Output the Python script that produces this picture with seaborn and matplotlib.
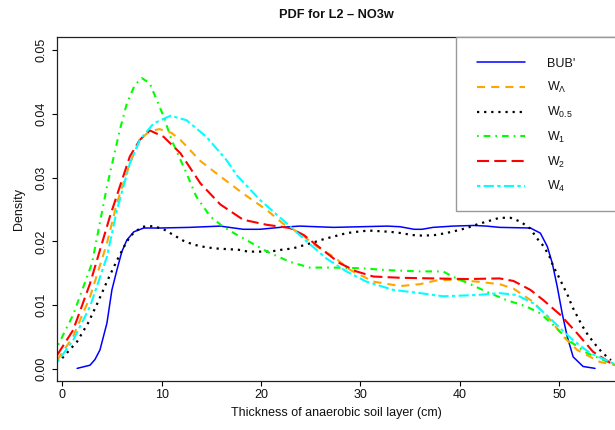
import numpy as np
import pandas as pd
import matplotlib
matplotlib.use("Agg")
import matplotlib.pyplot as plt
import seaborn as sns
from matplotlib.lines import Line2D
from matplotlib.patches import Rectangle

# ---------------- data ----------------
series_names = ["BUB'", "W_L", "W_0.5", "W_1", "W_2", "W_4"]
legend_labels = ["BUB'", r"W$_{Λ}$", r"W$_{0.5}$", r"W$_{1}$", r"W$_{2}$", r"W$_{4}$"]

bub_x = [1.5, 2.8, 3.3, 3.8, 4.5, 5.0, 5.5, 6.0, 6.5, 7.2, 8.2, 9.8, 12.8, 15.9, 18.2, 19.9,
         21.9, 23.9, 27.3, 30.0, 32.7, 34.0, 35.4, 36.2, 37.3, 39.3, 41.4, 42.7, 44.0, 47.1,
         48.1, 48.8, 49.3, 49.8, 50.3, 50.8, 51.4, 52.4, 53.6]
bub_y = [0.0001, 0.0006, 0.0015, 0.0030, 0.0072, 0.0124, 0.0155, 0.0184, 0.0202, 0.0215,
         0.0221, 0.0221, 0.0222, 0.0224, 0.0219, 0.0219, 0.0222, 0.0224, 0.0222, 0.0223,
         0.0224, 0.0223, 0.0219, 0.0219, 0.0222, 0.0224, 0.0225, 0.0224, 0.0222, 0.0221,
         0.0213, 0.0192, 0.0166, 0.0129, 0.0087, 0.0051, 0.0019, 0.0004, 0.0001]

wl_x = [-0.5, 1.1, 2.8, 4.5, 5.5, 6.8, 7.8, 8.8, 9.8, 11.0, 11.9, 13.9, 15.9, 18.2, 20.6,
        22.2, 23.9, 25.6, 27.3, 29.0, 31.3, 34.0, 36.0, 37.7, 39.4, 41.7, 44.0, 45.4, 47.4,
        49.1, 50.4, 51.8, 54.1, 55.7]
wl_y = [0.0014, 0.0051, 0.0113, 0.0197, 0.0260, 0.0322, 0.0359, 0.0373, 0.0376, 0.0370,
        0.0359, 0.0326, 0.0302, 0.0275, 0.0249, 0.0228, 0.0213, 0.0192, 0.0176, 0.0155,
        0.0137, 0.0130, 0.0133, 0.0139, 0.0140, 0.0137, 0.0133, 0.0126, 0.0105, 0.0077,
        0.0051, 0.0030, 0.0011, 0.0006]

w05_x = [0.0, 1.5, 2.6, 3.6, 4.5, 5.5, 6.5, 7.2, 8.1, 9.2, 10.2, 11.2, 12.2, 13.2, 14.4,
         15.4, 16.5, 17.7, 18.7, 20.9, 22.1, 23.2, 24.3, 25.4, 26.4, 27.4, 28.6, 29.6, 30.8,
         32.0, 33.0, 34.1, 35.2, 36.3, 37.5, 38.6, 39.7, 40.7, 41.8, 42.9, 44.0, 45.1, 46.1,
         47.1, 47.7, 48.4, 49.0, 49.4, 49.9, 50.4, 50.9, 51.3, 51.8, 52.3, 52.9, 53.6, 54.3,
         55.2]
w05_y = [0.0017, 0.0043, 0.0072, 0.0105, 0.0137, 0.0170, 0.0200, 0.0214, 0.0223, 0.0224,
         0.0219, 0.0210, 0.0201, 0.0195, 0.0191, 0.0189, 0.0188, 0.0187, 0.0184, 0.0184,
         0.0187, 0.0189, 0.0194, 0.0199, 0.0204, 0.0208, 0.0213, 0.0215, 0.0217, 0.0216,
         0.0215, 0.0213, 0.0210, 0.0209, 0.0210, 0.0213, 0.0217, 0.0221, 0.0227, 0.0232,
         0.0237, 0.0237, 0.0231, 0.0220, 0.0206, 0.0193, 0.0177, 0.0161, 0.0146, 0.0130,
         0.0114, 0.0098, 0.0083, 0.0068, 0.0053, 0.0039, 0.0026, 0.0014]

w1_x = [-0.4, 1.1, 3.0, 4.5, 5.8, 6.5, 7.3, 8.0, 8.8, 9.5, 10.2, 11.0, 12.5, 13.5, 14.9,
        16.2, 17.6, 18.2, 20.6, 22.9, 24.9, 27.2, 30.0, 32.7, 36.0, 38.3, 39.4, 41.2, 42.7,
        44.7, 46.7, 48.1, 49.4, 51.1, 52.8, 55.7]
w1_y = [0.0038, 0.0085, 0.0166, 0.0286, 0.0375, 0.0416, 0.0445, 0.0456, 0.0448, 0.0422,
        0.0396, 0.0359, 0.0307, 0.0270, 0.0239, 0.0223, 0.0210, 0.0205, 0.0184, 0.0168,
        0.0159, 0.0159, 0.0158, 0.0155, 0.0153, 0.0153, 0.0144, 0.0132, 0.0121, 0.0108,
        0.0098, 0.0087, 0.0069, 0.0043, 0.0025, 0.0006]

w2_x = [-0.5, 1.1, 2.8, 4.8, 6.8, 7.8, 8.8, 10.2, 11.9, 13.9, 15.9, 18.2, 20.6, 22.9, 24.3,
        25.6, 27.9, 29.6, 31.3, 34.0, 37.3, 40.7, 44.0, 45.4, 47.1, 48.4, 50.1, 51.8, 53.4,
        55.1, 55.7]
w2_y = [0.0022, 0.0061, 0.0134, 0.0239, 0.0333, 0.0359, 0.0374, 0.0364, 0.0338, 0.0291,
        0.0258, 0.0234, 0.0226, 0.0221, 0.0210, 0.0194, 0.0166, 0.0153, 0.0145, 0.0143,
        0.0142, 0.0141, 0.0142, 0.0138, 0.0124, 0.0108, 0.0085, 0.0056, 0.0027, 0.0010,
        0.0008]

w4_x = [-0.5, 1.1, 2.8, 4.5, 5.5, 6.8, 7.8, 9.2, 10.9, 12.5, 14.5, 16.5, 17.6, 19.9, 22.6,
        24.6, 26.6, 28.6, 30.6, 33.3, 36.0, 38.3, 41.7, 44.0, 45.7, 47.4, 48.7, 50.1, 51.4,
        53.1, 55.7]
w4_y = [0.0011, 0.0045, 0.0098, 0.0176, 0.0249, 0.0322, 0.0359, 0.0385, 0.0397, 0.0390,
        0.0364, 0.0328, 0.0303, 0.0265, 0.0228, 0.0200, 0.0173, 0.0153, 0.0137, 0.0124,
        0.0119, 0.0114, 0.0116, 0.0119, 0.0116, 0.0103, 0.0085, 0.0064, 0.0045, 0.0025,
        0.0007]

x_ticks = [0, 10, 20, 30, 40, 50]
y_ticks = [0.00, 0.01, 0.02, 0.03, 0.04, 0.05]
y_tick_labels = ["0.00", "0.01", "0.02", "0.03", "0.04", "0.05"]

# ---------------- styles ----------------
colors = ["#0000FF", "#FFA500", "#000000", "#00FF00", "#FF0000", "#00FFFF"]
widths = [1.1, 1.5, 1.6, 1.5, 1.5, 1.5]
styles = ["-", (0, (3.9, 2.9)), (0, (1.0, 2.2)), (0, (0.8, 2.4, 3.2, 2.4)),
          (0, (5.8, 2.5)), (0, (1.6, 1.6, 4.9, 1.6))]

xs = [bub_x, wl_x, w05_x, w1_x, w2_x, w4_x]
ys = [bub_y, wl_y, w05_y, w1_y, w2_y, w4_y]

frames = []
for name, x, y in zip(series_names, xs, ys):
    frames.append(pd.DataFrame({"series": name, "x": x, "y": y}))
df = pd.concat(frames, ignore_index=True)

sns.set_theme(style="ticks")
plt.rcParams["font.family"] = ["Liberation Sans", "DejaVu Sans"]
plt.rcParams["mathtext.default"] = "regular"

W, H = 615, 430
fig = plt.figure(figsize=(W / 100, H / 100), dpi=100)
ax_l, ax_r, ax_t, ax_b = 57.3, 616.0, 37.3, 380.7
ax = fig.add_axes([ax_l / W, (H - ax_b) / H, (ax_r - ax_l) / W, (ax_b - ax_t) / H])

for name, c, lw, ls in zip(series_names, colors, widths, styles):
    sub = df[df["series"] == name]
    sns.lineplot(data=sub, x="x", y="y", ax=ax, color=c, linewidth=lw,
                 linestyle=ls, sort=False, estimator=None, legend=False)

ax.set_xlim(-0.493, 55.71)
ax.set_ylim(-0.00183, 0.05199)
ax.set_xticks(x_ticks)
ax.set_xticklabels([str(t) for t in x_ticks])
ax.set_yticks(y_ticks)
ax.set_yticklabels(y_tick_labels, rotation=90, va="center")

fs = 9
ax.tick_params(axis="both", direction="out", length=3.6, width=0.8, color="black",
               labelsize=fs, labelcolor="#111111")
ax.tick_params(axis="x", pad=2.5)
ax.tick_params(axis="y", pad=3.5)
for sp in ax.spines.values():
    sp.set_color("#222222")
    sp.set_linewidth(0.9)

ax.set_xlabel("Thickness of anaerobic soil layer (cm)", fontsize=fs, color="#111111", va="center")
ax.xaxis.set_label_coords(0.5, ((H - 413) - (H - ax_b)) / (ax_b - ax_t))
ax.set_ylabel("Density", fontsize=fs, color="#111111", va="center")
ax.yaxis.set_label_coords((19.3 - ax_l) / (ax_r - ax_l), 0.5)

ax.set_title("PDF for L2 – NO3w", fontsize=9.2, fontweight="bold", color="#111111",
             y=1 + (ax_t - 15) / (ax_b - ax_t), pad=0, va="center")

# ---------------- legend (R-style box) ----------------
lg_l, lg_t, lg_b = 455.7, 36.7, 210.7
fig.add_artist(Rectangle((lg_l / W, (H - lg_b) / H), (700 - lg_l) / W, (lg_b - lg_t) / H,
                         transform=fig.transFigure, facecolor="white",
                         edgecolor="#999999", linewidth=1.0, zorder=5))
row0, dy = 62.3, 24.7
for i, (lab, c, lw, ls) in enumerate(zip(legend_labels, colors, widths, styles)):
    yy = row0 + i * dy
    fig.add_artist(Line2D([476.7 / W, 525 / W], [(H - yy) / H, (H - yy) / H],
                          transform=fig.transFigure, color=c, linewidth=lw,
                          linestyle=ls, zorder=6))
    fig.text(547 / W, (H - yy - 4.3) / H, lab, fontsize=fs, color="#111111",
             ha="left", va="baseline", zorder=7)

fig.savefig("out.png", dpi=100)
